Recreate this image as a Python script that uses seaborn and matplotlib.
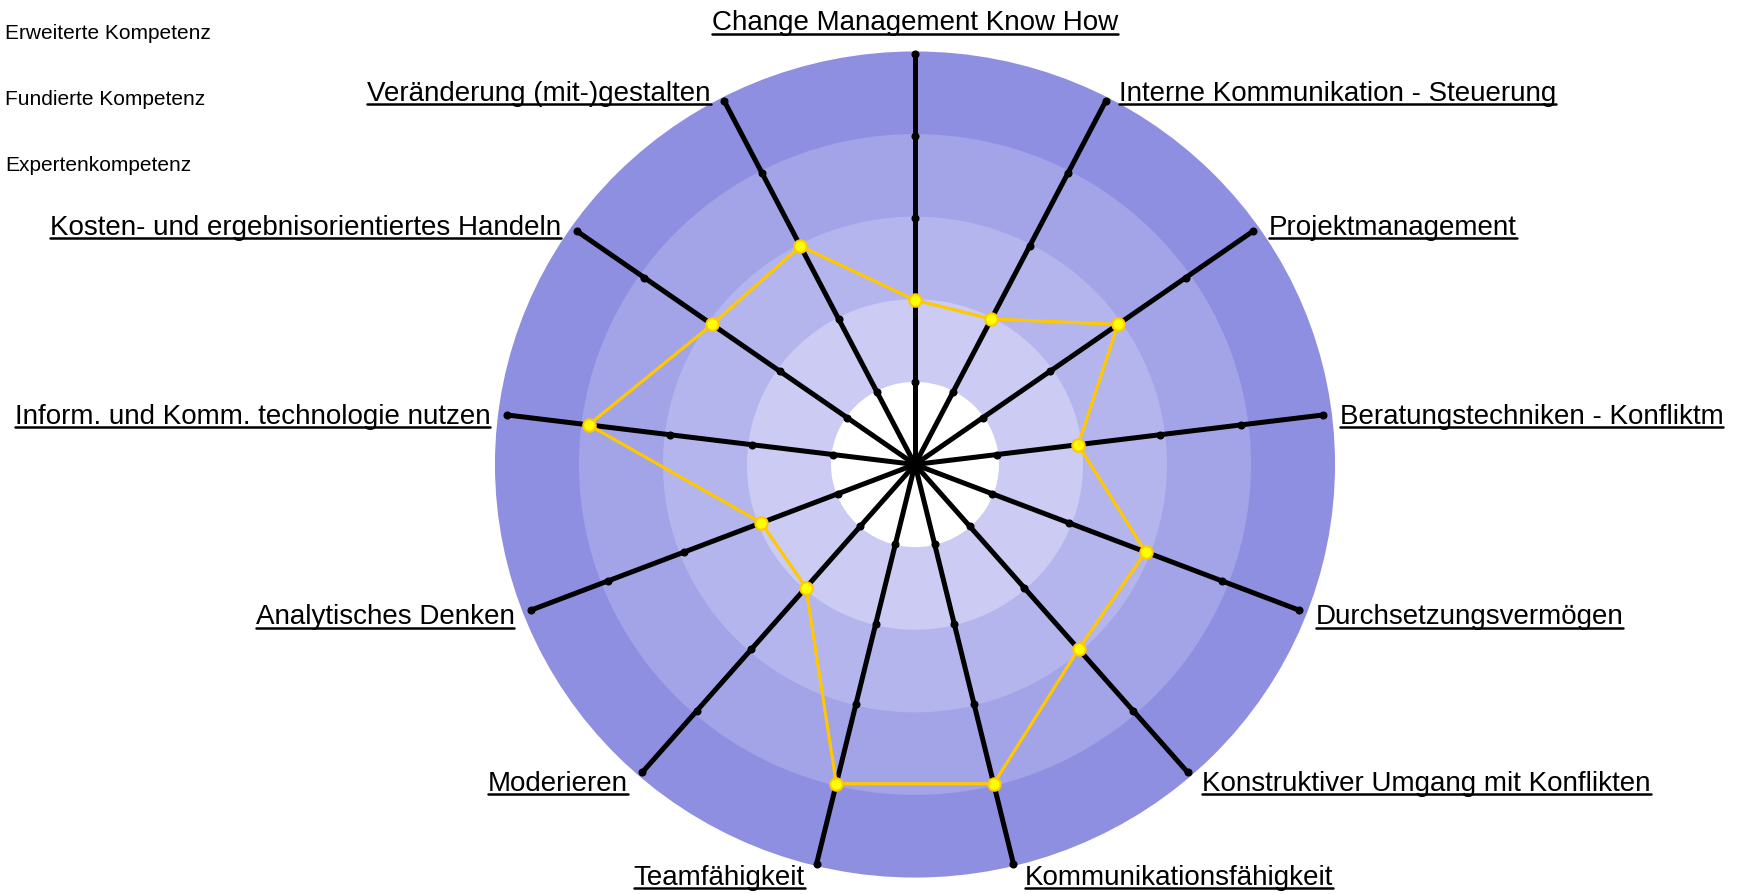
import numpy as np
import pandas as pd
import matplotlib
matplotlib.use("Agg")
import matplotlib.pyplot as plt
import seaborn as sns
from matplotlib.lines import Line2D
from matplotlib.patches import Ellipse

categories = [
    "Change Management Know How",
    "Interne Kommunikation - Steuerung",
    "Projektmanagement",
    "Beratungstechniken - Konfliktm",
    "Durchsetzungsvermögen",
    "Konstruktiver Umgang mit Konflikten",
    "Kommunikationsfähigkeit",
    "Teamfähigkeit",
    "Moderieren",
    "Analytisches Denken",
    "Inform. und Komm. technologie nutzen",
    "Kosten- und ergebnisorientiertes Handeln",
    "Veränderung (mit-)gestalten",
]
values = [2, 2, 3, 2, 3, 3, 4, 4, 2, 2, 4, 3, 3]
ring_levels = [1, 2, 3, 4, 5]
legend_labels = ["Erweiterte Kompetenz", "Fundierte Kompetenz", "Expertenkompetenz"]

ring_colors = {5: "#8f8fe2", 4: "#a3a3e8", 3: "#b5b5ee", 2: "#cbcbf3", 1: "#ffffff"}

sns.set_style("white")
plt.rcParams["font.family"] = ["Liberation Sans", "DejaVu Sans"]

W, H = 1751, 895
fig = plt.figure(figsize=(W / 100, H / 100), dpi=100)
cx, cy, R = 915, 465.5, 411
rect = [(cx - R) / W, (H - cy - R) / H, 2 * R / W, 2 * R / H]
rmax = max(ring_levels)

# background rings (slightly wider than tall, as in the reference)
bg = fig.add_axes(rect)
bg.set_xlim(-rmax, rmax)
bg.set_ylim(-rmax, rmax)
bg.axis("off")
for lvl in sorted(ring_levels, reverse=True):
    bg.add_patch(Ellipse((0, 0.0), width=2 * lvl * 1.022, height=2 * lvl * 1.005,
                         color=ring_colors[lvl], lw=0, clip_on=False))

ax = fig.add_axes(rect, projection="polar")
ax.set_theta_zero_location("N")
ax.set_theta_direction(-1)
ax.set_ylim(0, rmax)
ax.axis("off")
ax.patch.set_alpha(0)

n = len(categories)
angles = np.arange(n) * 2 * np.pi / n

# spokes with dots
for a in angles:
    ax.plot([a, a], [0, rmax], color="black", lw=3.6, zorder=3,
            solid_capstyle="butt", clip_on=False)
    ax.plot([a] * len(ring_levels), ring_levels, ls="none", marker="o", ms=4.8,
            color="black", zorder=3, clip_on=False)

# data polygon
df = pd.DataFrame({"theta": list(angles) + [angles[0]], "r": values + [values[0]]})
sns.lineplot(data=df, x="theta", y="r", sort=False, ax=ax, color="#ffc800", lw=2.3,
             zorder=4, estimator=None)
sns.scatterplot(data=df.iloc[:-1], x="theta", y="r", ax=ax, color="#ffff00",
                edgecolor="#ffc800", linewidth=1.5, s=80, zorder=5, clip_on=False)
ax.set_xlabel("")
ax.set_ylabel("")

# labels
texts = []
sc = 1 / 0.8955
for a, lab in zip(angles, categories):
    s, c = np.sin(a), np.cos(a)
    if abs(s) < 0.01:
        ha = "center"
        dx = 0
        dy = 28 * sc
    else:
        ha = "left" if s > 0 else "right"
        dx = np.sign(s) * (9 + 6 * abs(s)) * sc
        dy = (10 * c - 2) * sc
    t = ax.annotate(lab, xy=(a, rmax), xytext=(dx * 0.72, dy * 0.72),
                    textcoords="offset points", ha=ha, va="center", fontsize=20,
                    color="black", annotation_clip=False, zorder=6)
    texts.append(t)

for i, lab in enumerate(legend_labels):
    fig.text(5 / W, 1 - (33.5 + i * 66) / H, lab, ha="left", va="center", fontsize=15,
             color="black")

fig.canvas.draw()
renderer = fig.canvas.get_renderer()
inv = fig.transFigure.inverted()
for t in texts:
    bb = t.get_window_extent(renderer)
    y = bb.y0 + 1.5
    (x0, y0), (x1, y1) = inv.transform([(bb.x0, y), (bb.x1, y)])
    fig.add_artist(Line2D([x0, x1], [y0, y1], transform=fig.transFigure, color="black", lw=1.8))

fig.savefig("out.png", dpi=100)
